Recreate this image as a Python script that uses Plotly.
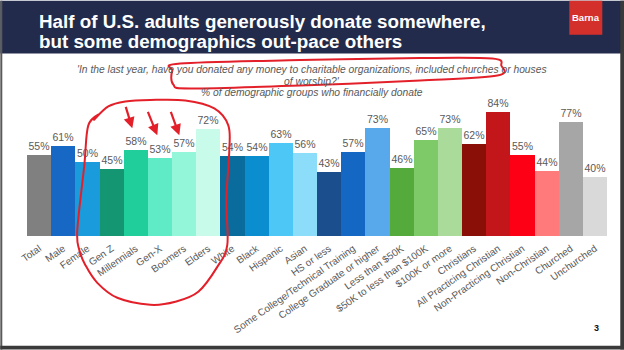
import plotly.graph_objects as go

categories = ["Total", "Male", "Female", "Gen Z", "Millennials", "Gen-X", "Boomers", "Elders",
              "White", "Black", "Hispanic", "Asian", "HS or less",
              "Some College/Technical Training", "College Graduate or higher",
              "Less than $50K", "$50K to less than $100K", "$100K or more",
              "Christians", "All Practicing Christian", "Non-Practicing Christian",
              "Non-Christian", "Churched", "Unchurched"]
values = [55, 61, 50, 45, 58, 53, 57, 72, 54, 54, 63, 56, 43, 57, 73, 46, 65, 73,
          62, 84, 55, 44, 77, 40]
bar_colors = ["#808080", "#1767C4", "#1A9BDC", "#139671", "#20CE9C", "#5EEBC6", "#93F6D9", "#C8FBEA",
              "#0A6C9C", "#0A8ECF", "#4DC7F5", "#8BDDF9", "#1B4E8C", "#1467C2", "#58A9EC",
              "#55AA3C", "#7ECA68", "#ABDB9B", "#8A0F07", "#C2161A", "#FE0016",
              "#FF7B7B", "#A6A6A6", "#D9D9D9"]
labels = [f"{v}%" for v in values]

title_lines = ["Half of U.S. adults generously donate somewhere,",
               "but some demographics out-pace others"]
subtitle_lines = ["'In the last year, have you donated any money to charitable organizations, included churches or houses",
                  "of worship?'",
                  "% of demographic groups who financially donate"]

W, H = 624, 350
L, R, T, B = 26.7, 17.3, 87.5, 114
PW, PH = W - L - R, H - T - B
FONT = "Arial, Liberation Sans, sans-serif"


def X(px):
    return (px - L) / PW


def Y(py):
    return (H - B - py) / PH


fig = go.Figure(go.Bar(
    x=categories, y=values, marker=dict(color=bar_colors, line=dict(width=0)),
    text=labels, textposition="outside", cliponaxis=False,
    textfont=dict(family=FONT, size=10.5, color="#595959"),
))

shapes = []
# title bar
shapes.append(dict(type="rect", xref="paper", yref="paper", x0=X(0), x1=X(624), y0=Y(0), y1=Y(53),
                   fillcolor="#222B4B", line=dict(width=0), layer="above"))
# Barna logo box
shapes.append(dict(type="rect", xref="paper", yref="paper", x0=X(569), x1=X(602), y0=Y(0), y1=Y(34),
                   fillcolor="#D3302C", line=dict(width=0), layer="above"))
# frame borders
shapes.append(dict(type="rect", xref="paper", yref="paper", x0=X(0), x1=X(2), y0=Y(0), y1=Y(350),
                   fillcolor="#5A5A5A", line=dict(width=0), layer="above"))
shapes.append(dict(type="rect", xref="paper", yref="paper", x0=X(620), x1=X(624), y0=Y(0), y1=Y(350),
                   fillcolor="#3A3A3A", line=dict(width=0), layer="above"))
shapes.append(dict(type="rect", xref="paper", yref="paper", x0=X(0), x1=X(624), y0=Y(346), y1=Y(350),
                   fillcolor="#3A3A3A", line=dict(width=0), layer="above"))


def smooth_path(pts, closed=False):
    P = [(X(x), Y(y)) for x, y in pts]
    n = len(P)
    if closed:
        P2 = [P[-1]] + P + [P[0], P[1]]
    else:
        P2 = [P[0]] + P + [P[-1]]
    d = f"M {P2[1][0]:.5f},{P2[1][1]:.5f}"
    segs = n if closed else n - 1
    for i in range(1, segs + 1):
        p0, p1, p2, p3 = P2[i - 1], P2[i], P2[i + 1], P2[i + 2]
        c1 = (p1[0] + (p2[0] - p0[0]) / 6, p1[1] + (p2[1] - p0[1]) / 6)
        c2 = (p2[0] - (p3[0] - p1[0]) / 6, p2[1] - (p3[1] - p1[1]) / 6)
        d += f" C {c1[0]:.5f},{c1[1]:.5f} {c2[0]:.5f},{c2[1]:.5f} {p2[0]:.5f},{p2[1]:.5f}"
    if closed:
        d += " Z"
    return d


RED = "#E3202A"
ellipse_pts = [(180, 63), (300, 59.5), (420, 57.5), (492, 58), (501, 65), (497, 75),
               (420, 80), (300, 85), (190, 88), (173, 84), (172, 70)]
shapes.append(dict(type="path", xref="paper", yref="paper", path=smooth_path(ellipse_pts, closed=True),
                   line=dict(color=RED, width=2), layer="above"))
loop_pts = [(100, 113), (88, 125), (84, 165), (77, 230), (79, 250), (85, 265), (97, 283), (117, 298),
            (150, 305), (175, 302), (198, 292), (217, 267), (227, 245), (226, 200), (229, 150),
            (228, 125), (214, 108), (185, 100), (150, 99.5), (125, 101), (108, 106), (93, 120)]
shapes.append(dict(type="path", xref="paper", yref="paper", path=smooth_path(loop_pts),
                   line=dict(color=RED, width=2), layer="above"))

annotations = []
annotations.append(dict(xref="paper", yref="paper", x=X(37), y=Y(21), xanchor="left", yanchor="middle",
                        text=title_lines[0], showarrow=False,
                        font=dict(family=FONT, size=18.8, color="white", weight="bold")))
annotations.append(dict(xref="paper", yref="paper", x=X(37), y=Y(41), xanchor="left", yanchor="middle",
                        text=title_lines[1], showarrow=False,
                        font=dict(family=FONT, size=18.8, color="white", weight="bold")))
annotations.append(dict(xref="paper", yref="paper", x=X(585.5), y=Y(17), xanchor="center", yanchor="middle",
                        text="Barna", showarrow=False,
                        font=dict(family=FONT, size=9.5, color="white", weight="bold")))
for i, (line, yy) in enumerate(zip(subtitle_lines, [69, 80.5, 92])):
    annotations.append(dict(xref="paper", yref="paper", x=X(312), y=Y(yy), xanchor="center", yanchor="middle",
                            text=f"<i>{line}</i>", showarrow=False,
                            font=dict(family=FONT, size=10.3, color="#595959")))
annotations.append(dict(xref="paper", yref="paper", x=X(596), y=Y(328), xanchor="center", yanchor="middle",
                        text="<b>3</b>", showarrow=False, font=dict(family=FONT, size=9, color="#111111")))
for (tx, ty), (hx, hy) in [((125, 105), (132, 128)), ((147, 110), (157, 135)), ((170, 110), (179, 135))]:
    annotations.append(dict(xref="paper", yref="paper", x=X(hx), y=Y(hy), ax=tx - hx, ay=ty - hy,
                            text="", showarrow=True, arrowhead=2, arrowsize=1, arrowwidth=2.2,
                            arrowcolor=RED))

fig.update_layout(
    width=W, height=H, margin=dict(l=L, r=R, t=T, b=B, pad=0),
    paper_bgcolor="white", plot_bgcolor="white", showlegend=False, bargap=0,
    xaxis=dict(tickangle=-35, tickfont=dict(family=FONT, size=10, color="#595959"),
               showgrid=False, showline=False, zeroline=False, ticks="", ticklabelstandoff=4),
    yaxis=dict(range=[0, 100], visible=False, showgrid=False),
    shapes=shapes, annotations=annotations,
)

fig.write_html("out.html")
